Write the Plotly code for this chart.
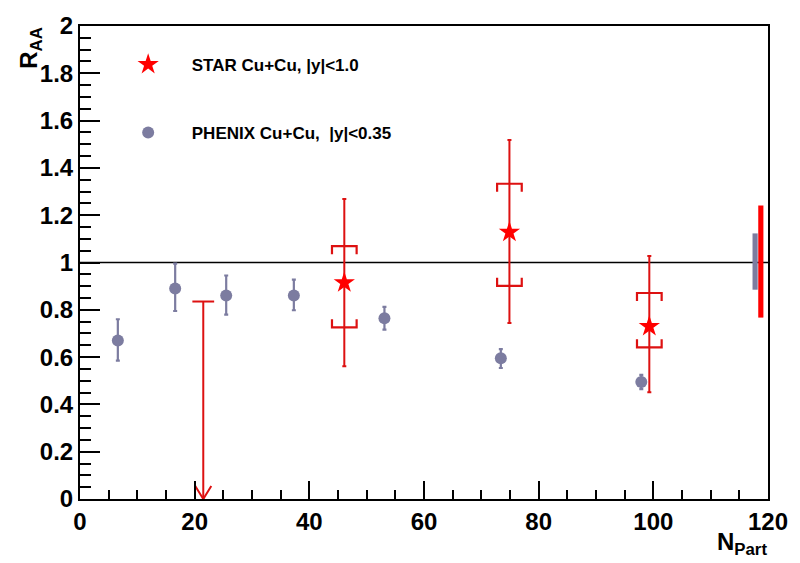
import plotly.graph_objects as go

# ---------------- data ----------------
phenix_npart = [6.6, 16.6, 25.5, 37.3, 53.1, 73.4, 97.9]
phenix_raa = [0.67, 0.89, 0.86, 0.86, 0.764, 0.595, 0.495]
phenix_err_hi = [0.09, 0.105, 0.085, 0.068, 0.048, 0.039, 0.03]
phenix_err_lo = [0.085, 0.095, 0.08, 0.062, 0.048, 0.041, 0.03]

star_npart = [46.1, 74.9, 99.3]
star_raa = [0.915, 1.128, 0.73]
star_stat_hi = [1.269, 1.518, 1.028]
star_stat_lo = [0.561, 0.744, 0.451]
star_syst_hi = [1.069, 1.333, 0.871]
star_syst_lo = [0.726, 0.901, 0.641]

limit_npart = [21.5]
limit_raa = [0.835]

norm_phenix = [0.885, 1.123]
norm_star = [0.767, 1.241]

ref_level = 1.0

x_ticks = [0, 20, 40, 60, 80, 100, 120]
y_ticks = [0, 0.2, 0.4, 0.6, 0.8, 1, 1.2, 1.4, 1.6, 1.8, 2]
y_ticklabels = ["0", "0.2", "0.4", "0.6", "0.8", "1", "1.2", "1.4", "1.6", "1.8", "2"]

# ---------------- styles ----------------
RED = "#ff0000"
RED_LINE = "#dd1111"
GRAY = "#7c7ca0"
FONT = "Liberation Sans, Arial, sans-serif"
BR_HW = 2.15   # bracket half width (x units)
BR_LEG = 0.034  # bracket leg (y units)

fig = go.Figure()

# reference line
fig.add_trace(go.Scatter(x=[0, 120], y=[ref_level, ref_level], mode="lines",
                         line=dict(color="black", width=1.3), showlegend=False,
                         hoverinfo="skip"))

# STAR systematic brackets
bx, by = [], []
for x, hi, lo in zip(star_npart, star_syst_hi, star_syst_lo):
    bx += [x - BR_HW, x - BR_HW, x + BR_HW, x + BR_HW, None]
    by += [hi - BR_LEG, hi, hi, hi - BR_LEG, None]
    bx += [x - BR_HW, x - BR_HW, x + BR_HW, x + BR_HW, None]
    by += [lo + BR_LEG, lo, lo, lo + BR_LEG, None]
fig.add_trace(go.Scatter(x=bx, y=by, mode="lines", line=dict(color=RED_LINE, width=2.2),
                         showlegend=False, hoverinfo="skip"))

# upper limit
lx, ly = [], []
for x, y in zip(limit_npart, limit_raa):
    lx += [x - 1.9, x + 1.9, None, x, x, None, x - 1.4, x, x + 1.4, None]
    ly += [y, y, None, y, 0, None, 0.055, 0, 0.055, None]
fig.add_trace(go.Scatter(x=lx, y=ly, mode="lines", line=dict(color=RED_LINE, width=2),
                         showlegend=False, hoverinfo="skip", cliponaxis=False))

# normalization boxes
fig.add_shape(type="rect", x0=117.3, x1=118.2, y0=norm_phenix[0], y1=norm_phenix[1],
              fillcolor=GRAY, line=dict(width=0))
fig.add_shape(type="rect", x0=118.3, x1=119.2, y0=norm_star[0], y1=norm_star[1],
              fillcolor=RED, line=dict(width=0))

# PHENIX
fig.add_trace(go.Scatter(
    x=phenix_npart, y=phenix_raa, mode="markers",
    name="\u00a0" * 5 + "PHENIX Cu+Cu,  |y|<0.35",
    marker=dict(symbol="circle", size=12, color=GRAY),
    error_y=dict(type="data", symmetric=False, array=phenix_err_hi,
                 arrayminus=phenix_err_lo, color=GRAY, thickness=2.2, width=2),
    legend="legend2"))

# STAR
fig.add_trace(go.Scatter(
    x=star_npart, y=star_raa, mode="markers",
    name="\u00a0" * 5 + "STAR Cu+Cu, |y|<1.0",
    marker=dict(symbol="star", size=16, color=RED),
    error_y=dict(type="data", symmetric=False,
                 array=[h - v for h, v in zip(star_stat_hi, star_raa)],
                 arrayminus=[v - l for v, l in zip(star_raa, star_stat_lo)],
                 color=RED_LINE, thickness=2, width=2),
    legend="legend"))

axis_common = dict(showline=True, linecolor="black", linewidth=2, mirror=True,
                   ticks="inside", tickcolor="black", tickwidth=1.5,
                   showgrid=False, zeroline=False,
                   tickfont=dict(family=FONT, size=24, color="black", weight="bold"))

fig.update_xaxes(range=[0, 120], tickvals=x_ticks, ticklen=18,
                 minor=dict(dtick=5, ticklen=9, ticks="inside", tickcolor="black", tickwidth=1.5),
                 **axis_common)
fig.update_yaxes(range=[0, 2], tickvals=y_ticks, ticktext=y_ticklabels, ticklen=20,
                 minor=dict(dtick=0.05, ticklen=11, ticks="inside", tickcolor="black", tickwidth=1.5),
                 **axis_common)

legend_font = dict(family=FONT, size=17, color="black", weight="bold")
fig.update_layout(
    width=800, height=563,
    margin=dict(l=80, r=23, t=13, b=64),
    plot_bgcolor="white", paper_bgcolor="white",
    legend=dict(x=0.07, y=0.918, xanchor="left", yanchor="middle", font=legend_font,
                bgcolor="rgba(0,0,0,0)"),
    legend2=dict(x=0.07, y=0.774, xanchor="left", yanchor="middle", font=legend_font,
                 bgcolor="rgba(0,0,0,0)"),
    annotations=[
        dict(text="R<sub>AA</sub>", xref="paper", yref="paper", x=-0.072, y=0.955,
             textangle=-90, showarrow=False, xanchor="center", yanchor="middle",
             font=dict(family=FONT, size=24, color="black", weight="bold")),
        dict(text="N<sub>Part</sub>", xref="paper", yref="paper", x=0.962, y=-0.095,
             showarrow=False, xanchor="center", yanchor="middle",
             font=dict(family=FONT, size=24, color="black", weight="bold")),
    ],
)

fig.write_html("out.html")
